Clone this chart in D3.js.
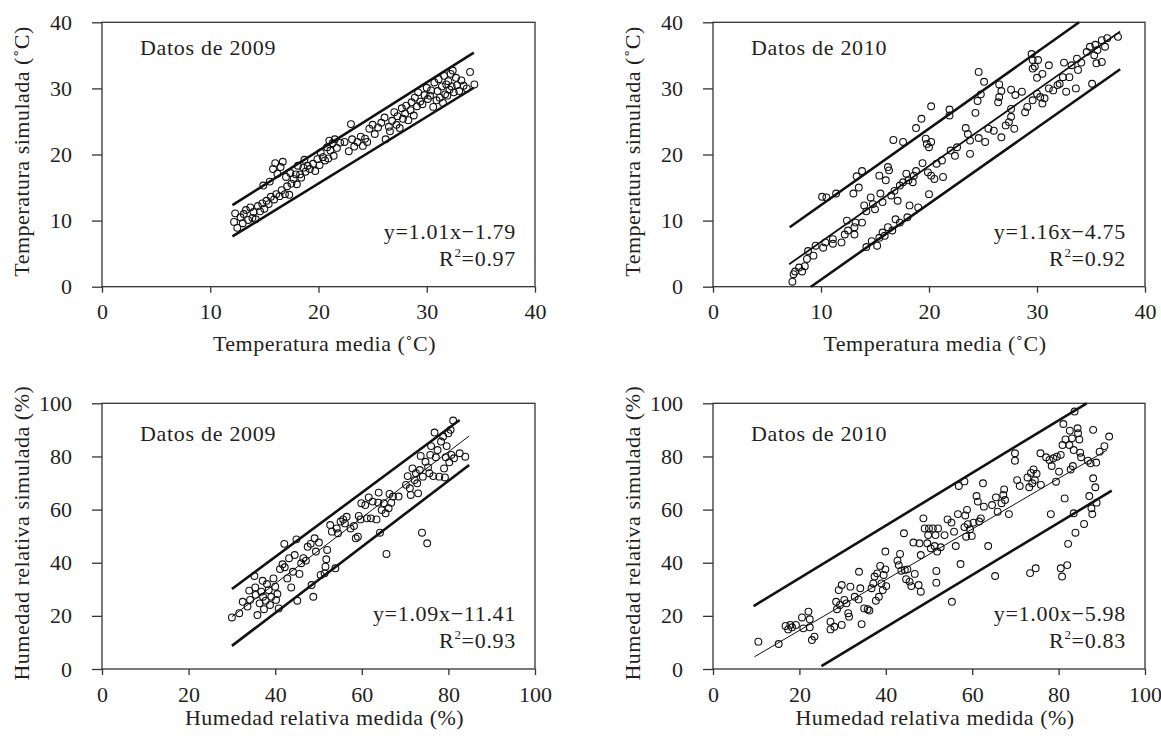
<!DOCTYPE html>
<html>
<head>
<meta charset="utf-8">
<script src="https://cdn.jsdelivr.net/npm/d3@7"></script>
<style>
  body { margin: 0; background: #fff; }
  svg text { font-family: "Liberation Serif", "DejaVu Serif", serif; fill: #231f20; }
</style>
</head>
<body>
<svg id="chart" width="1161" height="742"></svg>
<script>
const tempTicks = [0, 10, 20, 30, 40];
const humTicks = [0, 20, 40, 60, 80, 100];

const temp2009 = [
  [12.2,9.8],[12.3,11.1],[12.5,8.9],[12.8,10.5],[13.0,9.6],[13.1,11.0],[13.3,11.6],[13.5,10.1],[13.7,12.0],[13.9,10.4],
  [14.0,11.3],[14.2,10.2],[14.4,12.2],[14.6,11.4],[14.8,12.6],[14.9,15.3],[15.0,11.8],[15.2,13.0],[15.4,12.5],[15.5,15.9],
  [15.6,13.6],[15.8,17.8],[15.9,13.2],[16.0,18.7],[16.1,14.0],[16.2,17.1],[16.4,13.7],[16.5,18.1],[16.6,14.6],[16.7,18.9],
  [16.9,14.0],[17.0,16.6],[17.1,15.2],[17.3,13.9],[17.4,17.2],[17.5,15.6],[17.7,16.3],[17.9,17.0],[18.0,15.5],[18.1,18.3],
  [18.3,17.0],[18.4,16.5],[18.6,18.0],[18.7,19.2],[18.8,17.4],[19.0,18.3],[19.2,17.8],[19.5,18.6],[19.7,17.5],[19.9,19.3],
  [20.1,18.4],[20.2,20.3],[20.4,19.6],[20.6,19.1],[20.8,21.1],[20.9,19.4],[21.0,22.1],[21.1,20.6],[21.3,21.7],[21.4,19.8],
  [21.5,22.3],[21.7,21.0],[22.0,21.8],[22.4,21.9],[22.8,20.5],[23.0,24.6],[23.1,22.3],[23.3,21.2],[23.6,21.9],[23.9,22.7],
  [24.1,21.3],[24.3,22.4],[24.5,21.9],[24.7,23.9],[25.0,24.5],[25.2,23.1],[25.5,24.1],[25.8,24.8],[26.1,25.6],[26.2,22.3],
  [26.5,24.2],[26.6,23.5],[26.8,25.1],[27.0,26.4],[27.2,24.5],[27.3,25.8],[27.5,24.0],[27.7,27.0],[27.8,25.4],[28.0,26.2],
  [28.1,27.4],[28.3,25.2],[28.5,26.7],[28.6,27.9],[28.8,25.9],[28.9,28.6],[29.1,27.3],[29.2,29.4],[29.4,28.0],[29.6,27.6],
  [29.8,29.0],[30.0,30.1],[30.1,28.4],[30.3,28.9],[30.4,29.7],[30.6,27.2],[30.7,30.9],[30.9,28.2],[31.0,29.6],[31.1,31.4],
  [31.2,28.6],[31.4,30.3],[31.5,27.8],[31.6,31.9],[31.7,29.1],[31.8,30.6],[31.9,28.9],[32.0,31.1],[32.1,29.8],[32.2,32.2],
  [32.3,30.3],[32.4,32.7],[32.5,29.4],[32.7,31.6],[32.8,30.5],[33.0,29.6],[33.2,31.2],[33.4,30.4],[33.7,30.0],[34.0,32.5],
  [34.4,30.6]
];

const temp2010 = [
  [10.1,13.6],[10.5,13.5],[11.4,14.1],[13.3,16.7],[13.8,17.5],[13.0,14.1],[13.5,15.0],[15.4,16.8],[16.7,22.2],[17.6,21.9],
  [18.8,24.0],[19.3,25.4],[20.2,27.3],[21.9,26.8],[21.9,25.9],[24.6,32.5],[25.1,31.0],[24.3,26.3],[24.5,28.1],[24.8,29.1],
  [26.5,30.6],[26.7,29.6],[26.5,28.7],[26.4,27.9],[27.6,29.8],[28.0,29.0],[28.6,29.5],[29.5,35.2],[29.6,34.3],[29.8,33.3],
  [30.1,34.3],[29.6,33.0],[30.5,32.2],[31.1,33.5],[30.0,31.6],
  [7.35,0.76],[7.46,1.9],[7.6,2.3],[7.97,2.9],[8.25,2.3],[8.5,3.1],[8.7,4.2],[8.8,5.4],[9.3,4.7],[9.5,6.2],
  [10.2,5.9],[10.4,6.7],[11.1,7.2],[11.1,6.5],[11.9,6.7],[12.2,7.9],[12.4,10.0],[12.5,8.5],[13.1,7.9],[13.1,9.0],
  [13.2,9.7],[13.8,9.7],[14.0,12.3],[14.2,11.4],[14.6,13.5],[14.8,12.5],[15.0,11.7],[15.5,14.1],[15.7,12.8],[16.0,16.1],
  [16.2,18.1],[16.3,17.6],[16.5,13.8],[16.8,14.5],[17.1,13.0],[17.3,15.3],[17.6,15.8],[17.9,17.1],[18.1,16.1],[18.5,15.8],
  [18.6,16.8],[18.8,17.5],[19.4,18.7],[19.7,22.4],[19.8,21.6],[20.0,21.1],[20.2,21.9],[19.9,17.3],[20.2,16.8],[20.0,14.0],
  [20.5,16.3],[20.7,18.6],[21.2,19.1],[21.3,16.6],[22.0,20.6],[22.4,19.8],[22.6,21.1],[23.4,24.0],[23.6,23.1],[23.8,22.1],
  [23.8,20.1],[24.6,22.5],[25.2,21.9],[25.5,23.9],[26.0,23.6],[26.7,22.6],[27.1,24.4],[27.4,24.9],[27.6,26.9],[27.6,25.7],
  [27.9,23.9],[28.9,26.4],[29.1,27.2],[29.6,28.2],[30.0,29.2],[30.3,28.7],[30.5,27.7],[30.7,28.5],[31.1,30.0],[31.5,29.7],
  [31.9,30.5],[32.1,30.7],[32.4,31.7],[32.5,33.9],[32.7,29.5],[33.0,31.7],[33.2,33.5],[33.7,34.5],[33.6,30.0],[33.8,32.8],
  [34.1,33.9],[34.6,35.5],[34.9,36.3],[35.1,30.7],[35.3,35.0],[35.4,36.6],[35.5,33.8],[35.6,35.8],[36.0,37.3],[36.0,34.0],
  [36.3,36.3],[36.5,37.6],[37.5,37.8],
  [14.2,6.0],[15.2,6.2],[14.7,6.9],[15.4,7.4],[15.7,8.2],[15.9,7.7],[16.2,9.0],[16.6,8.5],[16.9,10.2],[17.3,9.7],
  [18.0,10.5],[18.2,12.3],[19.0,12.0]
];

const hum2009 = [
  [30.0,19.4],[31.7,21.0],[32.5,25.3],[33.6,23.5],[34.2,26.0],[34.0,29.5],[35.2,35.0],[35.4,30.7],[35.5,27.9],[35.9,20.3],
  [36.4,24.7],[36.8,29.1],[37.1,33.2],[37.2,27.2],[37.4,22.5],[37.8,25.7],[38.1,32.0],[38.5,29.7],[38.8,24.1],[39.1,27.2],
  [39.6,34.1],[40.0,31.0],[40.2,26.0],[40.5,28.2],[40.8,22.8],[41.1,37.6],[41.7,39.4],[42.1,47.1],[42.2,38.3],[42.8,34.1],
  [43.2,41.7],[43.7,30.7],[44.1,36.6],[44.5,42.9],[44.9,48.8],[45.1,25.7],[45.6,35.8],[46.0,39.8],[46.5,41.7],[47.1,40.8],
  [47.5,46.0],[48.2,47.1],[48.4,31.6],[48.8,27.2],[49.1,49.2],[49.4,44.2],[50.1,47.6],[50.5,35.4],[51.4,36.0],[51.6,38.5],
  [51.8,41.3],[52.0,44.8],[52.7,54.2],[53.1,51.7],[53.9,37.9],[54.2,52.9],[54.5,51.1],[55.1,55.5],[55.7,56.3],[56.1,54.8],
  [56.5,57.3],[57.4,52.9],[58.2,53.8],[58.6,49.2],[59.1,49.8],[59.3,57.6],[59.7,56.3],[59.9,62.4],[60.8,61.7],[61.2,56.7],
  [61.6,64.6],[62.1,56.7],[62.5,63.0],[63.4,56.3],[63.8,62.6],[63.9,66.4],[64.2,51.3],[64.6,59.8],[65.1,62.4],[65.5,58.6],
  [65.7,43.3],[66.2,60.5],[66.4,65.9],[66.8,62.6],[67.2,64.9],[68.5,64.9],[70.2,69.3],[70.6,72.6],[71.1,68.0],[71.3,65.5],
  [71.7,75.5],[72.2,71.1],[72.5,73.7],[72.8,69.9],[73.0,66.1],[73.4,74.9],[73.6,80.2],[73.9,51.3],[74.1,72.4],[74.7,78.0],
  [75.1,47.3],[75.3,75.9],[75.6,73.7],[75.8,80.6],[76.0,83.9],[76.5,72.6],[76.8,89.0],[77.1,79.7],[77.5,82.4],[77.9,72.4],
  [78.3,85.6],[78.8,87.5],[79.0,75.5],[79.2,72.1],[79.4,79.7],[79.6,83.9],[80.0,88.7],[80.2,77.8],[80.5,90.0],[80.7,80.6],
  [81.1,93.5],[81.3,79.3],[82.6,81.2],[83.9,79.9]
];

const hum2010 = [
  [10.5,10.3],[15.2,9.4],[16.8,16.2],[17.4,14.9],[17.9,16.6],[18.3,15.7],[19.2,16.6],[20.6,19.4],[20.9,15.3],[22.1,21.6],
  [22.4,18.7],[22.4,15.7],[22.9,10.9],[23.5,12.2],[27.2,17.8],[27.2,14.9],[28.1,15.9],[28.5,25.3],[28.7,22.5],[29.1,29.7],
  [29.4,24.1],[29.8,31.6],[29.8,16.6],[30.4,26.0],[30.9,24.7],[31.3,21.0],[31.5,19.7],[31.8,31.0],[32.8,27.2],[33.7,26.2],
  [33.8,36.6],[34.1,30.4],[34.4,16.9],[35.0,22.8],[35.8,22.5],[36.2,22.0],[36.7,30.4],[37.1,32.2],[37.4,34.8],[37.7,25.7],
  [38.0,36.0],[38.4,27.2],[38.7,38.8],[39.0,32.2],[39.3,29.7],[39.5,35.4],[39.9,37.5],[40.1,31.2],[39.9,44.2],[42.7,40.8],
  [43.0,39.1],[43.3,43.3],[43.6,37.0],[44.2,51.1],[44.4,37.3],[44.7,33.8],[45.0,37.5],[45.5,32.9],[45.9,31.2],[46.4,47.6],
  [46.7,35.8],[47.6,31.6],[47.8,47.3],[48.1,29.1],[48.1,42.9],[48.7,56.7],[49.0,52.9],[49.6,47.3],[49.8,50.4],[50.0,52.9],
  [50.4,45.4],[50.9,52.9],[51.3,46.3],[51.5,50.4],[51.7,36.9],[51.7,32.5],[51.9,44.2],[52.1,52.9],[52.7,45.8],[53.6,50.4],
  [54.3,56.3],[55.2,55.1],[55.3,25.3],[55.8,51.7],[56.2,46.3],[56.7,58.3],[56.9,68.9],[57.3,39.5],[58.2,53.4],[58.2,70.6],
  [58.4,57.8],[58.6,49.8],[58.8,59.9],[59.0,54.5],[59.5,52.6],[59.9,50.1],[60.3,55.1],[61.0,65.1],[61.3,63.0],[61.6,55.5],
  [62.0,56.7],[62.5,69.9],[62.7,61.1],[63.7,46.3],[64.6,61.7],[65.3,35.0],[65.5,64.6],[65.9,59.2],[66.8,62.4],[67.2,65.5],
  [67.4,67.6],[67.6,63.6],[68.5,58.3],[69.9,81.2],[69.9,78.4],[70.4,71.1],[71.0,68.9],[72.8,72.1],[73.2,68.4],[73.4,36.1],
  [73.6,73.8],[73.9,69.9],[74.2,75.1],[74.5,71.1],[74.7,37.9],[74.9,73.5],[75.9,69.3],[75.8,81.2],[77.1,79.7],[77.9,78.7],
  [78.2,58.3],[78.4,76.4],[78.8,79.3],[79.4,70.5],[79.6,79.9],[80.1,74.3],[80.5,80.6],[80.5,37.9],[80.8,34.8],[80.9,84.3],
  [81.1,92.2],[81.4,64.2],[81.6,86.4],[82.0,39.1],[82.2,47.1],[82.5,84.3],[82.6,89.7],[82.8,75.1],[83.1,86.8],[83.3,76.4],
  [83.5,82.4],[83.5,58.6],[83.7,96.9],[83.9,51.3],[84.4,90.6],[84.5,88.7],[84.8,86.4],[85.0,81.4],[85.2,79.7],[85.9,54.6],
  [86.8,78.4],[87.1,65.1],[87.4,77.4],[87.6,60.5],[87.8,58.3],[88.0,90.0],[88.0,71.8],[88.5,68.4],[88.7,77.7],[88.8,62.6],
  [89.5,81.8],[90.6,83.9],[91.7,87.5]
];

// band lines [x1, y1, x2, y2] in data units; fit = thin middle line
const temp2009Bands = [[12.05,12.35,34.35,35.4],[12.05,7.6,34.35,30.1]];
const temp2009Fit = null;
const temp2010Bands = [[7.1,9.0,33.9,40.0],[9.07,0,37.7,32.9]];
const temp2010Fit = [7.05,3.4,37.7,38.6];
const hum2009Bands = [[30.0,30.1,82.6,93.7],[30.0,8.7,84.8,76.8]];
const hum2009Fit = [30.0,19.7,84.8,87.7];
const hum2010Bands = [[9.4,23.7,86.5,100],[25.1,1.1,92.3,67.1]];
const hum2010Fit = [9.6,4.6,91.2,82.4];

const yearLabels = ["Datos de 2009", "Datos de 2010", "Datos de 2009", "Datos de 2010"];
const equations = ["y=1.01x\u22121.79", "y=1.16x\u22124.75", "y=1.09x\u221211.41", "y=1.00x\u22125.98"];
const r2Values = ["0.97", "0.92", "0.93", "0.83"];
const xTitles = ["Temperatura media (\u02daC)", "Temperatura media (\u02daC)", "Humedad relativa medida (%)", "Humedad relativa medida (%)"];
const yTitles = ["Temperatura simulada (\u02daC)", "Temperatura simulada (\u02daC)", "Humedad relativa simulada (%)", "Humedad relativa simulada (%)"];

const panels = [
  { pts: temp2009, bands: temp2009Bands, fit: temp2009Fit, fitW: 1, max: 40, ticks: tempTicks, x0: 102, x1: 535, top: 22.3, bottom: 286.7 },
  { pts: temp2010, bands: temp2010Bands, fit: temp2010Fit, fitW: 1.8, max: 40, ticks: tempTicks, x0: 713, x1: 1145, top: 22.3, bottom: 286.7 },
  { pts: hum2009, bands: hum2009Bands, fit: hum2009Fit, fitW: 1, max: 100, ticks: humTicks, x0: 102, x1: 535, top: 403.3, bottom: 669 },
  { pts: hum2010, bands: hum2010Bands, fit: hum2010Fit, fitW: 1, max: 100, ticks: humTicks, x0: 713, x1: 1145, top: 403.3, bottom: 669 }
];

const svg = d3.select("#chart");
const ink = "#231f20";

panels.forEach((p, i) => {
  const x = d3.scaleLinear().domain([0, p.max]).range([p.x0, p.x1]);
  const y = d3.scaleLinear().domain([0, p.max]).range([p.bottom, p.top]);
  const g = svg.append("g");

  // frame
  g.append("rect").attr("x", p.x0).attr("y", p.top)
    .attr("width", p.x1 - p.x0).attr("height", p.bottom - p.top)
    .attr("fill", "none").attr("stroke", "#333").attr("stroke-width", 1.3);

  const xAxis = d3.axisBottom(x).tickValues(p.ticks).tickSize(6).tickPadding(11);
  const yAxis = d3.axisLeft(y).tickValues(p.ticks).tickSize(10).tickPadding(20);
  const gx = g.append("g").attr("transform", `translate(0,${p.bottom})`).call(xAxis);
  const gy = g.append("g").attr("transform", `translate(${p.x0},0)`).call(yAxis);
  [gx, gy].forEach(a => {
    a.select(".domain").remove();
    a.selectAll(".tick line").attr("stroke", "#333").attr("stroke-width", 1.3);
    a.selectAll(".tick text").attr("font-size", 22).attr("fill", ink);
  });

  // bands and fit
  p.bands.forEach(b => {
    g.append("line").attr("x1", x(b[0])).attr("y1", y(b[1])).attr("x2", x(b[2])).attr("y2", y(b[3]))
      .attr("stroke", "#111").attr("stroke-width", 2.6);
  });
  if (p.fit) {
    g.append("line").attr("x1", x(p.fit[0])).attr("y1", y(p.fit[1])).attr("x2", x(p.fit[2])).attr("y2", y(p.fit[3]))
      .attr("stroke", "#111").attr("stroke-width", p.fitW);
  }

  g.selectAll("circle.pt").data(p.pts).enter().append("circle")
    .attr("class", "pt")
    .attr("cx", d => x(d[0])).attr("cy", d => y(d[1])).attr("r", 3.4)
    .attr("fill", "none").attr("stroke", "#111").attr("stroke-width", 1.1);

  // texts
  g.append("text").attr("x", p.x0 + 38).attr("y", p.top + (i < 2 ? 33 : 38))
    .attr("font-size", 22).attr("letter-spacing", 0.7).text(yearLabels[i]);
  g.append("text").attr("x", p.x1 - 19).attr("y", p.bottom - 48)
    .attr("text-anchor", "end").attr("font-size", 22).attr("letter-spacing", 0.7).text(equations[i]);
  const r2 = g.append("text").attr("x", p.x1 - 19).attr("y", p.bottom - 21)
    .attr("text-anchor", "end").attr("font-size", 22).attr("letter-spacing", 0.7);
  r2.append("tspan").text("R");
  r2.append("tspan").attr("font-size", 13).attr("dy", -9).text("2");
  r2.append("tspan").attr("dy", 9).text("=" + r2Values[i]);

  g.append("text").attr("x", (p.x0 + p.x1) / 2 + 6).attr("y", p.bottom + (i < 2 ? 64 : 56))
    .attr("text-anchor", "middle").attr("font-size", 22).attr("letter-spacing", 0.5).text(xTitles[i]);
  g.append("text")
    .attr("transform", `translate(${p.x0 - 73},${(p.top + p.bottom) / 2 - 3}) rotate(-90)`)
    .attr("text-anchor", "middle").attr("font-size", 22).attr("letter-spacing", 0.5).text(yTitles[i]);
});
</script>
</body>
</html>
